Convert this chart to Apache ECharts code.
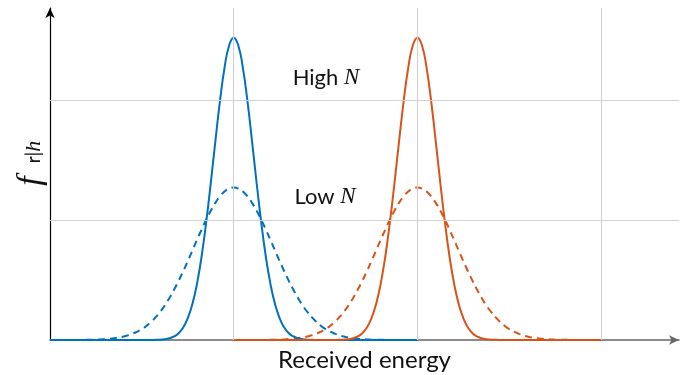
<!DOCTYPE html>
<html>
<head>
<meta charset="utf-8">
<script src="https://cdn.jsdelivr.net/npm/echarts@6/dist/echarts.min.js"></script>
<style>
  html, body { margin: 0; padding: 0; background: #fff; }
  #chart { width: 685px; height: 375px; }
</style>
</head>
<body>
<div id="chart"></div>
<script>
// Energy samples: blue level centred at 1, red level centred at 2
const blueX = [0.000, 0.025, 0.050, 0.075, 0.100, 0.125, 0.150, 0.175, 0.200, 0.225,
               0.250, 0.275, 0.300, 0.325, 0.350, 0.375, 0.400, 0.425, 0.450, 0.475,
               0.500, 0.525, 0.550, 0.575, 0.600, 0.625, 0.650, 0.675, 0.700, 0.725,
               0.750, 0.775, 0.800, 0.825, 0.850, 0.875, 0.900, 0.925, 0.950, 0.975,
               1.000,
               1.025, 1.050, 1.075, 1.100, 1.125, 1.150, 1.175, 1.200, 1.225, 1.250,
               1.275, 1.300, 1.325, 1.350, 1.375, 1.400, 1.425, 1.450, 1.475, 1.500,
               1.525, 1.550, 1.575, 1.600, 1.625, 1.650, 1.675, 1.700, 1.725, 1.750,
               1.775, 1.800, 1.825, 1.850, 1.875, 1.900, 1.925, 1.950, 1.975, 2.000];
const redX  = [1.000, 1.025, 1.050, 1.075, 1.100, 1.125, 1.150, 1.175, 1.200, 1.225,
               1.250, 1.275, 1.300, 1.325, 1.350, 1.375, 1.400, 1.425, 1.450, 1.475,
               1.500, 1.525, 1.550, 1.575, 1.600, 1.625, 1.650, 1.675, 1.700, 1.725,
               1.750, 1.775, 1.800, 1.825, 1.850, 1.875, 1.900, 1.925, 1.950, 1.975,
               2.000,
               2.025, 2.050, 2.075, 2.100, 2.125, 2.150, 2.175, 2.200, 2.225, 2.250,
               2.275, 2.300, 2.325, 2.350, 2.375, 2.400, 2.425, 2.450, 2.475, 2.500,
               2.525, 2.550, 2.575, 2.600, 2.625, 2.650, 2.675, 2.700, 2.725, 2.750,
               2.775, 2.800, 2.825, 2.850, 2.875, 2.900, 2.925, 2.950, 2.975, 3.000];

// Densities: high N is narrow and tall, low N is wide and flat
const blueHigh = [0, 0, 0, 0, 0, 0, 0, 0, 0, 0,
                  0, 0, 0, 0, 0, 0, 0, 0, 0, 0,
                  0, 0.0002, 0.0005, 0.0013, 0.003, 0.0068, 0.0145, 0.0296, 0.057, 0.1045,
                  0.182, 0.299, 0.468, 0.694, 0.978, 1.305, 1.654, 1.989, 2.268, 2.455,
                  2.52,
                  2.455, 2.268, 1.989, 1.654, 1.305, 0.978, 0.694, 0.468, 0.299, 0.182,
                  0.1045, 0.057, 0.0296, 0.0145, 0.0068, 0.003, 0.0013, 0.0005, 0.0002, 0,
                  0, 0, 0, 0, 0, 0, 0, 0, 0, 0,
                  0, 0, 0, 0, 0, 0, 0, 0, 0, 0];
const blueLow  = [0, 0, 0, 0.0001, 0.0002, 0.0003, 0.0005, 0.0009, 0.0015, 0.0023,
                  0.003, 0.005, 0.007, 0.0105, 0.015, 0.0208, 0.029, 0.0391, 0.053, 0.0698,
                  0.091, 0.118, 0.151, 0.190, 0.236, 0.289, 0.350, 0.418, 0.493, 0.573,
                  0.658, 0.745, 0.834, 0.920, 1.002, 1.077, 1.143, 1.197, 1.237, 1.262,
                  1.27,
                  1.262, 1.237, 1.197, 1.143, 1.077, 1.002, 0.920, 0.834, 0.745, 0.658,
                  0.573, 0.493, 0.418, 0.350, 0.289, 0.236, 0.190, 0.151, 0.118, 0.091,
                  0.0698, 0.053, 0.0391, 0.029, 0.0208, 0.015, 0.0105, 0.007, 0.005, 0.003,
                  0.0023, 0.0015, 0.0009, 0.0005, 0.0003, 0.0002, 0.0001, 0, 0, 0];
const redHigh  = [0, 0, 0, 0, 0, 0, 0, 0, 0, 0,
                  0, 0, 0, 0, 0, 0, 0, 0, 0, 0,
                  0, 0.0002, 0.0005, 0.0013, 0.003, 0.0068, 0.0145, 0.0296, 0.057, 0.1045,
                  0.182, 0.299, 0.468, 0.694, 0.978, 1.305, 1.654, 1.989, 2.268, 2.455,
                  2.52,
                  2.455, 2.268, 1.989, 1.654, 1.305, 0.978, 0.694, 0.468, 0.299, 0.182,
                  0.1045, 0.057, 0.0296, 0.0145, 0.0068, 0.003, 0.0013, 0.0005, 0.0002, 0,
                  0, 0, 0, 0, 0, 0, 0, 0, 0, 0,
                  0, 0, 0, 0, 0, 0, 0, 0, 0, 0];
const redLow   = [0, 0, 0, 0.0001, 0.0002, 0.0003, 0.0005, 0.0009, 0.0015, 0.0023,
                  0.003, 0.005, 0.007, 0.0105, 0.015, 0.0208, 0.029, 0.0391, 0.053, 0.0698,
                  0.091, 0.118, 0.151, 0.190, 0.236, 0.289, 0.350, 0.418, 0.493, 0.573,
                  0.658, 0.745, 0.834, 0.920, 1.002, 1.077, 1.143, 1.197, 1.237, 1.262,
                  1.27,
                  1.262, 1.237, 1.197, 1.143, 1.077, 1.002, 0.920, 0.834, 0.745, 0.658,
                  0.573, 0.493, 0.418, 0.350, 0.289, 0.236, 0.190, 0.151, 0.118, 0.091,
                  0.0698, 0.053, 0.0391, 0.029, 0.0208, 0.015, 0.0105, 0.007, 0.005, 0.003,
                  0.0023, 0.0015, 0.0009, 0.0005, 0.0003, 0.0002, 0.0001, 0, 0, 0];

// Reference lines
const gridX = [1, 2, 3];
const gridY = [1, 2];

const BLUE = '#0072BD';
const RED = '#D95319';
const SANS = 'Lato, "Open Sans", sans-serif';
const SERIF = '"Liberation Serif", "DejaVu Serif", serif';

function pairs(xs, ys) { return xs.map((x, i) => [x, ys[i]]); }

function curve(name, xs, ys, color, dashed) {
  return {
    name, type: 'line', data: pairs(xs, ys),
    smooth: true, showSymbol: false, z: 3,
    lineStyle: { color, width: 2, type: dashed ? [7, 5] : 'solid' },
    emphasis: { disabled: true }
  };
}

const chart = echarts.init(document.getElementById('chart'));
chart.setOption({
  animation: false,
  grid: { left: 50, right: 6, top: 8, bottom: 35, outerBoundsMode: 'none', containLabel: false },
  xAxis: {
    type: 'value', min: 0, max: 3.424,
    name: 'Received energy', nameLocation: 'middle', nameGap: 8,
    nameTextStyle: { fontFamily: SANS, fontSize: 24, color: '#111', verticalAlign: 'top' },
    axisLine: { show: true, lineStyle: { color: '#666', width: 1.6 }, symbol: ['none', 'arrow'], symbolSize: [7, 10] },
    axisTick: { show: false }, axisLabel: { show: false }, splitLine: { show: false }
  },
  yAxis: {
    type: 'value', min: 0, max: 2.767,
    axisLine: { show: true, onZero: false, lineStyle: { color: '#000', width: 1.2 }, symbol: ['none', 'arrow'], symbolSize: [7, 10] },
    axisTick: { show: false }, axisLabel: { show: false }, splitLine: { show: false }
  },
  series: [
    {
      type: 'line', data: [], z: 1, silent: true,
      markLine: {
        silent: true, symbol: ['none', 'none'], label: { show: false },
        lineStyle: { color: '#d2d2d2', width: 1.2, type: 'solid' },
        emphasis: { disabled: true },
        data: gridX.map(v => ({ xAxis: v })).concat(gridY.map(v => ({ yAxis: v })))
      }
    },
    curve('blue low', blueX, blueLow, BLUE, true),
    curve('red low', redX, redLow, RED, true),
    curve('blue high', blueX, blueHigh, BLUE, false),
    curve('red high', redX, redHigh, RED, false)
  ],
  graphic: [
    {
      type: 'text', x: 326, y: 78, z: 10,
      style: {
        text: '{a|High }{n|N}', align: 'center', verticalAlign: 'middle',
        rich: {
          a: { fontFamily: SANS, fontSize: 22, fill: '#111' },
          n: { fontFamily: SERIF, fontStyle: 'italic', fontSize: 23, fill: '#111' }
        }
      }
    },
    {
      type: 'text', x: 325, y: 197, z: 10,
      style: {
        text: '{a|Low }{n|N}', align: 'center', verticalAlign: 'middle',
        rich: {
          a: { fontFamily: SANS, fontSize: 22, fill: '#111' },
          n: { fontFamily: SERIF, fontStyle: 'italic', fontSize: 23, fill: '#111' }
        }
      }
    },
    {
      type: 'group', x: 31, y: 181, rotation: Math.PI / 2,
      children: [
        {
          type: 'text', x: 0, y: 0,
          style: { text: 'f', fontFamily: SERIF, fontStyle: 'italic', fontSize: 34, fill: '#111', align: 'center', verticalAlign: 'middle' }
        },
        {
          type: 'text', x: 29, y: 3,
          style: {
            text: '{u|r|}{i|h}', align: 'center', verticalAlign: 'middle',
            rich: {
              u: { fontFamily: SANS, fontSize: 19, fill: '#111' },
              i: { fontFamily: SERIF, fontStyle: 'italic', fontSize: 22, fill: '#111' }
            }
          }
        }
      ]
    }
  ]
});
</script>
</body>
</html>
